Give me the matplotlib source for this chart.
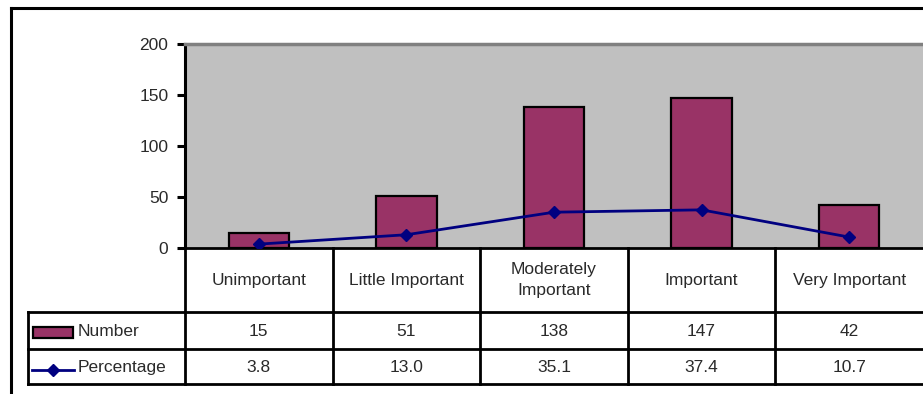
import matplotlib
matplotlib.use("Agg")
import matplotlib.pyplot as plt
from matplotlib.lines import Line2D
from matplotlib.patches import Rectangle

categories = ["Unimportant", "Little Important", "Moderately\nImportant",
              "Important", "Very Important"]
numbers = [15, 51, 138, 147, 42]
percentages = [3.8, 13.0, 35.1, 37.4, 10.7]
yticks = [0, 50, 100, 150, 200]

BAR = "#993366"
LINE = "#000080"
BG = "#C0C0C0"
TXT = "#2a2a2a"

plt.rcParams["font.family"] = ["Liberation Sans", "DejaVu Sans"]
FS = 12.5

W, H = 923, 394
fig = plt.figure(figsize=(W / 100, H / 100), dpi=100)

# geometry in pixels
x0, x1 = 185, 923
y_top, y_zero, y_bot = 44, 248, 384
ncat = len(categories)
cw = (x1 - x0) / ncat

def fx(px):
    return px / W

def fy(py):
    return (H - py) / H

# chart area
ax = fig.add_axes([fx(x0), fy(y_zero), fx(x1 - x0), (y_zero - y_top) / H])
ax.set_facecolor(BG)
xs = [i + 0.5 for i in range(ncat)]
ax.bar(xs, numbers, width=0.41, color=BAR, edgecolor="black", linewidth=1.6, zorder=2)
ax.plot(xs, percentages, color=LINE, lw=2, marker="D", ms=6.5, zorder=3)
ax.set_xlim(0, ncat)
ax.set_ylim(0, 200)
ax.set_yticks(yticks)
ax.set_yticklabels([str(v) for v in yticks], fontsize=FS, color=TXT)
ax.set_xticks([])
ax.tick_params(axis="y", direction="out", length=6, width=2.2, pad=6, color="black")
ax.spines["right"].set_visible(False)
ax.spines["top"].set_color("#808080")
ax.spines["top"].set_linewidth(2.5)
ax.spines["left"].set_linewidth(2.2)
ax.spines["bottom"].set_linewidth(2)

# data table underneath
tab = fig.add_axes([fx(x0), fy(y_bot), fx(x1 - x0), (y_bot - y_zero) / H])
tab.set_xlim(0, ncat)
tab.set_ylim(y_bot - y_zero, 0)
tab.axis("off")

def dx(px):
    return (px - x0) / cw

r1, r2, r3 = 312 - y_zero, 349 - y_zero, y_bot - y_zero
left = dx(28)
kw = dict(color="black", lw=2, clip_on=False, solid_capstyle="projecting")
tab.plot([0, 0], [0, r3], **kw)
for k in range(1, ncat):
    tab.plot([k, k], [0, r3], **kw)
for yy in (r1, r2, r3):
    tab.plot([left, ncat], [yy, yy], **kw)
tab.plot([left, left], [r1, r3], **kw)

for i, c in enumerate(categories):
    tab.text(i + 0.5, r1 / 2, c, ha="center", va="center", fontsize=FS,
             color=TXT, linespacing=1.5)
    tab.text(i + 0.5, (r1 + r2) / 2 + 1, str(numbers[i]), ha="center",
             va="center", fontsize=FS, color=TXT)
    tab.text(i + 0.5, (r2 + r3) / 2 + 1, f"{percentages[i]:.1f}", ha="center",
             va="center", fontsize=FS, color=TXT)

# legend keys in the row headers
tab.add_patch(Rectangle((dx(33), 327 - y_zero), dx(73) - dx(33), 11,
                        facecolor=BAR, edgecolor="black", lw=1.6, clip_on=False))
tab.text(dx(78), (r1 + r2) / 2 + 1, "Number", ha="left", va="center",
         fontsize=FS, color=TXT)
tab.plot([dx(32), dx(74)], [370 - y_zero] * 2, color=LINE, lw=2, clip_on=False)
tab.plot([dx(53)], [370 - y_zero], color=LINE, marker="D", ms=6, clip_on=False)
tab.text(dx(78), (r2 + r3) / 2 + 1, "Percentage", ha="left", va="center",
         fontsize=FS, color=TXT)

# outer chart frame
fig.add_artist(Line2D([fx(11), fx(11)], [fy(8), 0], color="black", lw=2.2))
fig.add_artist(Line2D([fx(11), 1], [fy(8), fy(8)], color="black", lw=2.2))

fig.savefig("out.png", dpi=100, facecolor="white")
